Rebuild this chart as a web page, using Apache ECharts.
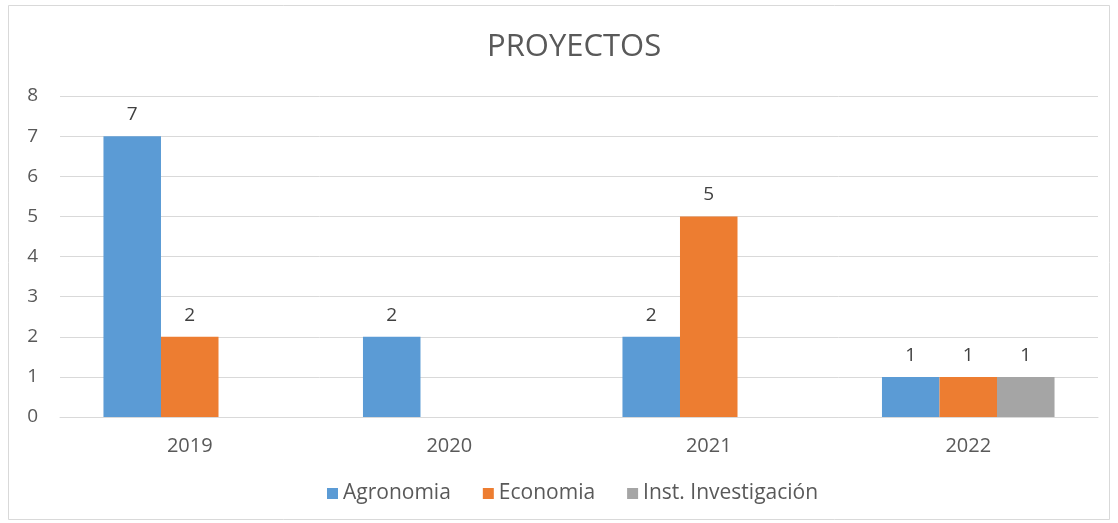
<!DOCTYPE html>
<html>
<head>
<meta charset="utf-8">
<script src="https://cdn.jsdelivr.net/npm/echarts@6/dist/echarts.min.js"></script>
<style>
  html, body { margin: 0; padding: 0; background: #fff; }
  #chart { width: 1118px; height: 523px; }
</style>
</head>
<body>
<div id="chart"></div>
<script>
// datos del gráfico
const years = ['2019', '2020', '2021', '2022']
const agronomia = [7, 2, 2, 1]
const economia = [2, null, 5, 1]
const instInvestigacion = [null, null, null, 1]
const yTicks = { min: 0, max: 8, interval: 1 }

const font = '"Open Sans", "Liberation Sans", sans-serif'
const textColor = '#595959'

function barSerie(name, data, color) {
  return {
    name: name,
    type: 'bar',
    data: data,
    barGap: '0%',
    barCategoryGap: '33.5%',
    itemStyle: { color: color },
    label: {
      show: true,
      position: 'top',
      distance: 12,
      color: '#404040',
      fontSize: 19,
      fontFamily: font
    }
  }
}

const chart = echarts.init(document.getElementById('chart'))
const option = {
  animation: false,
  backgroundColor: '#fff',
  graphic: [{
    type: 'rect',
    shape: { x: 8.5, y: 5.5, width: 1101, height: 514 },
    style: { fill: 'none', stroke: '#d9d9d9', lineWidth: 1 },
    silent: true
  }],
  title: {
    text: 'PROYECTOS',
    left: 482,
    top: 27,
    textStyle: { color: textColor, fontSize: 31, fontWeight: 'normal', fontFamily: font }
  },
  legend: {
    bottom: 14,
    left: 322,
    itemWidth: 11,
    itemHeight: 11,
    itemGap: 32,
    icon: 'rect',
    textStyle: { color: textColor, fontSize: 21, fontFamily: font }
  },
  grid: { left: 60, right: 20, top: 96, bottom: 106 },
  xAxis: {
    type: 'category',
    data: years,
    axisLine: { lineStyle: { color: '#d9d9d9' } },
    axisTick: { show: false },
    axisLabel: { color: textColor, fontSize: 20, fontFamily: font, margin: 19 }
  },
  yAxis: {
    type: 'value',
    min: yTicks.min,
    max: yTicks.max,
    interval: yTicks.interval,
    axisLine: { show: false },
    axisTick: { show: false },
    splitLine: { lineStyle: { color: '#d9d9d9' } },
    axisLabel: { color: textColor, fontSize: 19, fontFamily: font, margin: 22 }
  },
  series: [
    barSerie('Agronomia', agronomia, '#5b9bd5'),
    barSerie('Economia', economia, '#ed7d31'),
    barSerie('Inst. Investigación', instInvestigacion, '#a5a5a5')
  ]
}
chart.setOption(option)
window.addEventListener('resize', function () {
  chart.resize()
})
</script>
</body>
</html>
